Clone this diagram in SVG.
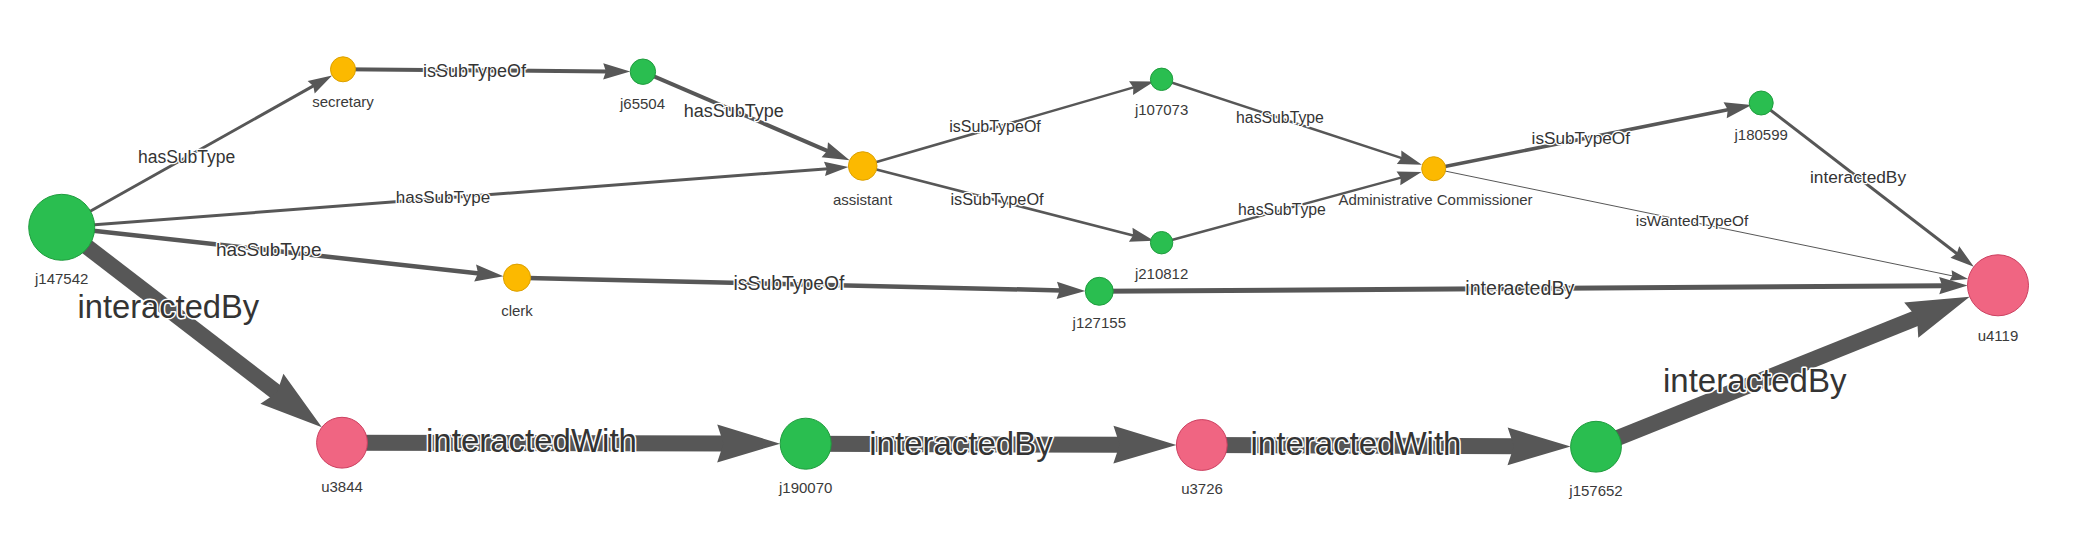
<svg xmlns="http://www.w3.org/2000/svg" width="2076" height="541" viewBox="0 0 2076 541">
<defs>
<style>
.e{stroke:#575757;fill:none;stroke-linecap:butt}
.nl{font-family:"Liberation Sans",Arial,sans-serif;font-size:15px;fill:#3a3a3a;text-anchor:middle;dominant-baseline:central}
.el{font-family:"Liberation Sans",Arial,sans-serif;fill:#343434;text-anchor:middle;dominant-baseline:central;stroke:#ffffff;stroke-width:2.5px;paint-order:stroke;stroke-linejoin:round}
.big{stroke-width:3px}
.g{fill:#2abe50;stroke:#1f9c3e;stroke-width:1}
.o{fill:#fcb900;stroke:#dca000;stroke-width:1}
.p{fill:#f06582;stroke:#cc4060;stroke-width:1}
</style>
<marker id="a16" markerUnits="userSpaceOnUse" orient="auto" refX="0" refY="0" overflow="visible" markerWidth="1" markerHeight="1"><path d="M53.55,0 L-9.45,18.9 L-3.15,0 L-9.45,-18.9 Z" fill="#575757"/></marker>
<marker id="a5" markerUnits="userSpaceOnUse" orient="auto" refX="0" refY="0" overflow="visible" markerWidth="1" markerHeight="1"><path d="M24.2,0 L-4.3,8.6 L-1.4,0 L-4.3,-8.6 Z" fill="#575757"/></marker>
<marker id="a4" markerUnits="userSpaceOnUse" orient="auto" refX="0" refY="0" overflow="visible" markerWidth="1" markerHeight="1"><path d="M22.95,0 L-4.05,8.1 L-1.35,0 L-4.05,-8.1 Z" fill="#575757"/></marker>
<marker id="a3" markerUnits="userSpaceOnUse" orient="auto" refX="0" refY="0" overflow="visible" markerWidth="1" markerHeight="1"><path d="M20.4,0 L-3.6,7.2 L-1.2,0 L-3.6,-7.2 Z" fill="#575757"/></marker>
<marker id="a1" markerUnits="userSpaceOnUse" orient="auto" refX="0" refY="0" overflow="visible" markerWidth="1" markerHeight="1"><path d="M15.3,0 L-2.7,5.4 L-0.9,0 L-2.7,-5.4 Z" fill="#575757"/></marker>
</defs>
<rect width="2076" height="541" fill="#ffffff"/>
<g id="connectors">
<line class="e" x1="61.7" y1="227.3" x2="314.3" y2="85.4" stroke-width="3" marker-end="url(#a3)"/>
<line class="e" x1="343" y1="69.3" x2="607.25" y2="71.4" stroke-width="4" marker-end="url(#a4)"/>
<line class="e" x1="642.9" y1="71.7" x2="828.5" y2="151.3" stroke-width="4" marker-end="url(#a4)"/>
<line class="e" x1="61.7" y1="227.3" x2="828.1" y2="168.65" stroke-width="3" marker-end="url(#a3)"/>
<line class="e" x1="61.7" y1="227.3" x2="479.4" y2="273.5" stroke-width="4.5" marker-end="url(#a5)"/>
<line class="e" x1="517" y1="277.7" x2="1061.1" y2="290.4" stroke-width="4.5" marker-end="url(#a5)"/>
<line class="e" x1="862.7" y1="166" x2="1134.5" y2="87.1" stroke-width="2.5" marker-end="url(#a3)"/>
<line class="e" x1="862.7" y1="166" x2="1134.2" y2="235.7" stroke-width="2.5" marker-end="url(#a3)"/>
<line class="e" x1="1161.6" y1="79.3" x2="1402.5" y2="158.4" stroke-width="2.5" marker-end="url(#a3)"/>
<line class="e" x1="1161.6" y1="242.7" x2="1401.9" y2="177.4" stroke-width="2.5" marker-end="url(#a3)"/>
<line class="e" x1="1433.7" y1="168.7" x2="1729.1" y2="109.5" stroke-width="3.5" marker-end="url(#a4)"/>
<line class="e" x1="1433.7" y1="168.7" x2="1953.15" y2="276" stroke-width="1" marker-end="url(#a1)"/>
<line class="e" x1="1761.2" y1="103" x2="1957.7" y2="254.25" stroke-width="3" marker-end="url(#a3)"/>
<line class="e" x1="1099.3" y1="291.3" x2="1943.5" y2="285.66" stroke-width="5" marker-end="url(#a5)"/>
<line class="e" x1="61.7" y1="227.3" x2="279.4" y2="394.6" stroke-width="16" marker-end="url(#a16)"/>
<line class="e" x1="342" y1="442.7" x2="726.65" y2="443.53" stroke-width="16" marker-end="url(#a16)"/>
<line class="e" x1="805.7" y1="443.7" x2="1122.85" y2="444.74" stroke-width="16" marker-end="url(#a16)"/>
<line class="e" x1="1201.8" y1="445" x2="1517.05" y2="446.36" stroke-width="16" marker-end="url(#a16)"/>
<line class="e" x1="1596" y1="446.7" x2="1920" y2="316.6" stroke-width="16" marker-end="url(#a16)"/>
<text class="el" x="186.6" y="156.7" font-size="17.5">hasSubType</text>
<text class="el" x="474.5" y="70.7" font-size="18">isSubTypeOf</text>
<text class="el" x="733.8" y="110.7" font-size="18">hasSubType</text>
<text class="el" x="443" y="197" font-size="17">hasSubType</text>
<text class="el" x="268.7" y="249.3" font-size="19">hasSubType</text>
<text class="el" x="789" y="283.3" font-size="19.4">isSubTypeOf</text>
<text class="el" x="995" y="126.7" font-size="16">isSubTypeOf</text>
<text class="el" x="997" y="199" font-size="16.3">isSubTypeOf</text>
<text class="el" x="1280" y="117" font-size="15.8">hasSubType</text>
<text class="el" x="1282" y="209" font-size="15.8">hasSubType</text>
<text class="el" x="1580.8" y="137.7" font-size="17.2">isSubTypeOf</text>
<text class="el" x="1692" y="220.7" font-size="15.3">isWantedTypeOf</text>
<text class="el" x="1858" y="177" font-size="17.3">interactedBy</text>
<text class="el" x="1519.8" y="287.7" font-size="19.6">interactedBy</text>
<text class="el big" x="168.3" y="306.7" font-size="32.7">interactedBy</text>
<text class="el big" x="531.5" y="440" font-size="33">interactedWith</text>
<text class="el big" x="961" y="443.3" font-size="33">interactedBy</text>
<text class="el big" x="1356" y="443.5" font-size="33">interactedWith</text>
<text class="el big" x="1754.7" y="380.7" font-size="33">interactedBy</text>
</g>
<g id="j147542"><circle class="g" cx="61.7" cy="227.3" r="33"/><text class="nl" x="61.7" y="278.3">j147542</text></g>
<g id="secretary"><circle class="o" cx="343" cy="69.3" r="12.5"/><text class="nl" x="343" y="101">secretary</text></g>
<g id="j65504"><circle class="g" cx="642.9" cy="71.7" r="12.7"/><text class="nl" x="642.5" y="103">j65504</text></g>
<g id="assistant"><circle class="o" cx="862.7" cy="166" r="14.3"/><text class="nl" x="862.5" y="199">assistant</text></g>
<g id="j107073"><circle class="g" cx="1161.6" cy="79.3" r="11.2"/><text class="nl" x="1161.6" y="109">j107073</text></g>
<g id="j210812"><circle class="g" cx="1161.6" cy="242.7" r="11.2"/><text class="nl" x="1161.6" y="273.3">j210812</text></g>
<g id="administrative-commissioner"><circle class="o" cx="1433.7" cy="168.7" r="12"/><text class="nl" x="1435.5" y="199.3">Administrative Commissioner</text></g>
<g id="j180599"><circle class="g" cx="1761.2" cy="103" r="12"/><text class="nl" x="1761.2" y="134">j180599</text></g>
<g id="u4119"><circle class="p" cx="1998" cy="285.3" r="30.5"/><text class="nl" x="1998" y="335">u4119</text></g>
<g id="clerk"><circle class="o" cx="517" cy="277.7" r="13.6"/><text class="nl" x="517" y="310">clerk</text></g>
<g id="j127155"><circle class="g" cx="1099.3" cy="291.3" r="14"/><text class="nl" x="1099.3" y="322.7">j127155</text></g>
<g id="u3844"><circle class="p" cx="342" cy="442.7" r="25.4"/><text class="nl" x="342" y="486.7">u3844</text></g>
<g id="j190070"><circle class="g" cx="805.7" cy="443.7" r="25.5"/><text class="nl" x="805.7" y="487">j190070</text></g>
<g id="u3726"><circle class="p" cx="1201.8" cy="445" r="25.4"/><text class="nl" x="1202" y="488.7">u3726</text></g>
<g id="j157652"><circle class="g" cx="1596" cy="446.7" r="25.4"/><text class="nl" x="1596" y="490.7">j157652</text></g>
</svg>
